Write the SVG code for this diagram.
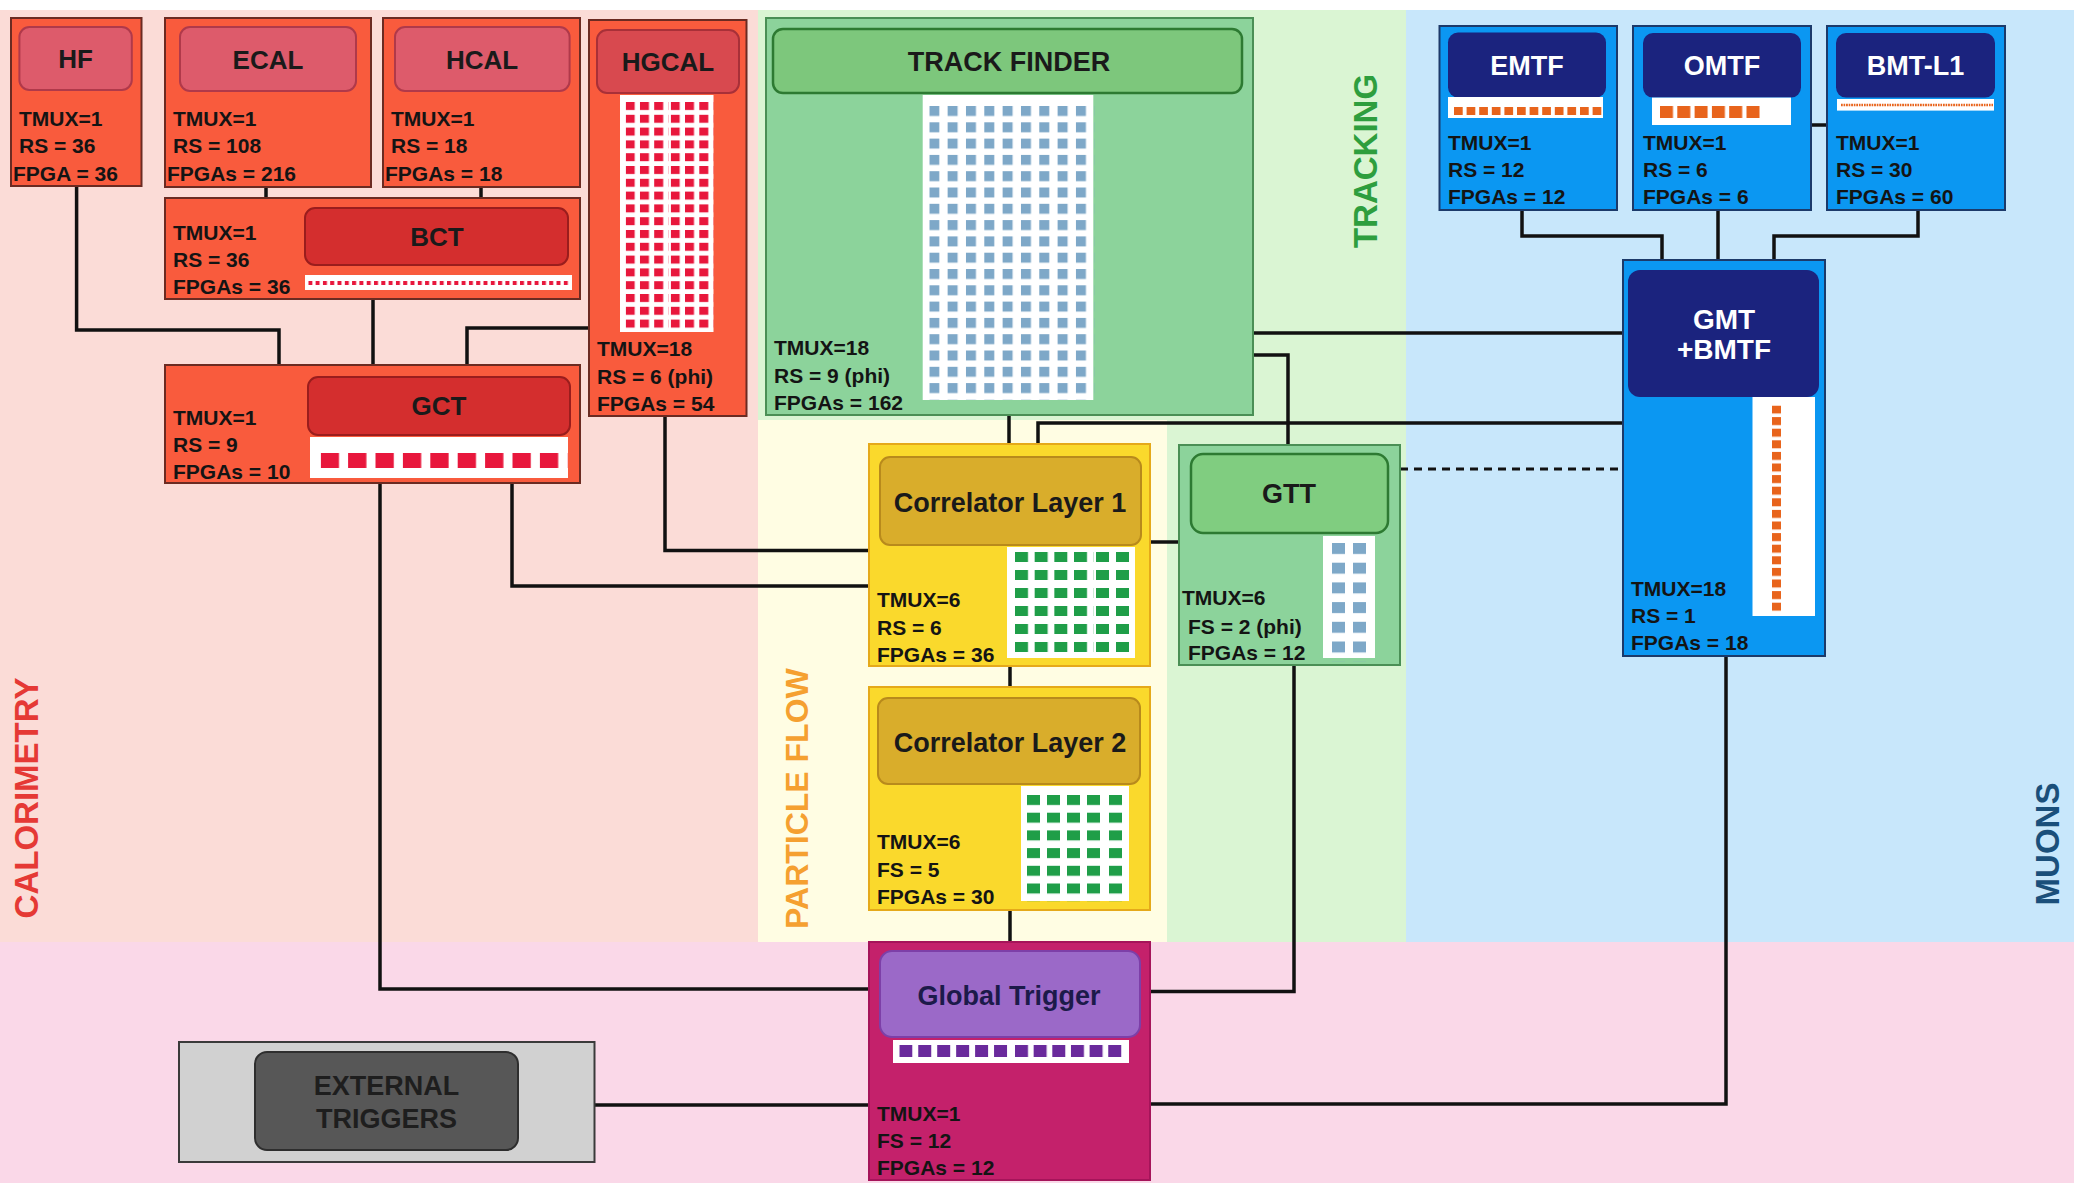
<svg xmlns="http://www.w3.org/2000/svg" width="2074" height="1183" viewBox="0 0 2074 1183">
<style>
.st{font-family:"Liberation Sans",Arial,Helvetica,sans-serif;font-weight:bold;font-size:21px;fill:#141414}
.hd{font-family:"Liberation Sans",Arial,Helvetica,sans-serif;font-weight:bold;font-size:26px;fill:#1a1a1a;text-anchor:middle}
.hw{font-family:"Liberation Sans",Arial,Helvetica,sans-serif;font-weight:bold;font-size:27px;fill:#ffffff;text-anchor:middle}
.lab{font-family:"Liberation Sans",Arial,Helvetica,sans-serif;font-weight:bold;font-size:33px;text-anchor:middle}
.calo{fill:#f95b3d;stroke:#6b2b22;stroke-width:2}
.caloh{fill:#dd5b6b;stroke:#b0394a;stroke-width:2}
.calod{fill:#d42e2e;stroke:#9a1d1d;stroke-width:2}
.trk{fill:#8cd39b;stroke:#4a8f55;stroke-width:2}
.trkh{fill:#7dc77c;stroke:#2d7a32;stroke-width:2.5}
.pf{fill:#fad92c;stroke:#e5a91a;stroke-width:2}
.pfh{fill:#d9ad2b;stroke:#b88a1c;stroke-width:2}
.mu{fill:#0b97f2;stroke:#1c3a6a;stroke-width:2}
.muh{fill:#1b237e}
.wh{fill:#ffffff}
.c{fill:none;stroke:#111;stroke-width:3.5}
</style>
<defs>
<pattern id="pTF" patternUnits="userSpaceOnUse" x="929.3" y="106" width="18.33" height="16.3"><rect width="10" height="10" fill="#7ea8c8"/></pattern>
<pattern id="pHG" patternUnits="userSpaceOnUse" x="625.7" y="102" width="14.25" height="12.8"><rect width="9" height="8" fill="#e8173c"/></pattern>
<pattern id="pHG2" patternUnits="userSpaceOnUse" x="670.7" y="102" width="14.3" height="12.8"><rect width="9" height="8" fill="#e8173c"/></pattern>
<pattern id="pCL1" patternUnits="userSpaceOnUse" x="1015" y="552" width="19.67" height="18"><rect width="13" height="10" fill="#1f9e48"/></pattern>
<pattern id="pCL1b" patternUnits="userSpaceOnUse" x="1096" y="552" width="20" height="18"><rect width="13" height="10" fill="#1f9e48"/></pattern>
<pattern id="pCL2" patternUnits="userSpaceOnUse" x="1027" y="795" width="20" height="17.7"><rect width="13" height="10" fill="#1f9e48"/></pattern>
<pattern id="pCL2b" patternUnits="userSpaceOnUse" x="1109" y="795" width="20" height="17.7"><rect width="13" height="10" fill="#1f9e48"/></pattern>
<pattern id="pGTT" patternUnits="userSpaceOnUse" x="1332" y="543" width="21" height="19.7"><rect width="13" height="11" fill="#7ea8c8"/></pattern>
<pattern id="pGT" patternUnits="userSpaceOnUse" x="899.3" y="1045" width="18.95" height="20"><rect width="13" height="12" fill="#6a2a9c"/></pattern>
<pattern id="pGT2" patternUnits="userSpaceOnUse" x="1015" y="1045" width="18.65" height="20"><rect width="13" height="12" fill="#6a2a9c"/></pattern>
<pattern id="pGCT" patternUnits="userSpaceOnUse" x="320.7" y="453" width="27.4" height="20"><rect width="18.3" height="15" fill="#e8173c"/></pattern>
<pattern id="pBCT" patternUnits="userSpaceOnUse" x="308.3" y="281" width="7.3" height="10"><rect width="4" height="4" fill="#e8173c"/></pattern>
<pattern id="pEM" patternUnits="userSpaceOnUse" x="1454" y="107" width="12.6" height="12"><rect width="8.7" height="8" fill="#e8641c"/></pattern>
<pattern id="pOM" patternUnits="userSpaceOnUse" x="1660" y="106" width="17.3" height="14"><rect width="13" height="12" fill="#e8641c"/></pattern>
<pattern id="pBM" patternUnits="userSpaceOnUse" x="1841" y="103.5" width="2.55" height="6"><rect width="1.7" height="3" fill="#e8641c"/></pattern>
<pattern id="pGMT" patternUnits="userSpaceOnUse" x="1772" y="405.5" width="12" height="11.6"><rect width="9" height="8" fill="#e8641c"/></pattern>
</defs>

<g id="backgrounds">
<rect x="0" y="0" width="2074" height="1183" fill="#ffffff"/>
<rect x="0" y="10" width="758" height="932" fill="#fbdcd7"/>
<rect x="758" y="10" width="648" height="932" fill="#daf5d3"/>
<rect x="758" y="420" width="409" height="522" fill="#fffde3"/>
<rect x="1406" y="10" width="668" height="932" fill="#c8e7fb"/>
<rect x="0" y="942" width="2074" height="241" fill="#fad8e8"/>
<text class="lab" fill="#e53935" transform="translate(26,798) rotate(-90)" y="11.5">CALORIMETRY</text>
<text class="lab" fill="#f5a030" transform="translate(796,798.6) rotate(-90)" y="11.5" style="font-size:32px">PARTICLE FLOW</text>
<text class="lab" fill="#2e9e3e" transform="translate(1365,161) rotate(-90)" y="11.5">TRACKING</text>
<text class="lab" fill="#1a4f7a" transform="translate(2047,844) rotate(-90)" y="11.5">MUONS</text>
</g>

<g id="connectors">
<path class="c" d="M76.6 186 V330 H279 V365"/>
<path class="c" d="M266 187 V198"/>
<path class="c" d="M481 187 V198"/>
<path class="c" d="M373 299 V365"/>
<path class="c" d="M589 328 H467 V365"/>
<path class="c" d="M380 483 V989 H869"/>
<path class="c" d="M512 483 V586 H869"/>
<path class="c" d="M665 416 V550.5 H869"/>
<path class="c" d="M1009 415 V444"/>
<path class="c" d="M1253 355 H1288 V445"/>
<path class="c" d="M1253 333 H1623"/>
<path class="c" d="M1038 444 V423 H1623"/>
<path class="c" d="M1150 542 H1179"/>
<path class="c" d="M1010 666 V687"/>
<path class="c" d="M1010 910 V942"/>
<path class="c" d="M1294 665 V991.6 H1150"/>
<path class="c" d="M1726 656 V1104 H1150"/>
<path class="c" d="M594.5 1105 H869"/>
<path class="c" d="M1400 469 H1623" stroke-dasharray="8 6" style="stroke-width:3"/>
<path class="c" d="M1522 210 V236 H1662 V260"/>
<path class="c" d="M1718 210 V260"/>
<path class="c" d="M1918 210 V236 H1774 V260"/>
<path class="c" d="M1811 125 H1827"/>
</g>

<g id="HF">
<rect class="calo" x="11" y="18" width="130.5" height="168"/>
<rect class="caloh" x="19.4" y="27" width="112.4" height="63" rx="10"/>
<text class="hd" x="75.6" y="67.5">HF</text>
<text class="st" x="19" y="125.5">TMUX=1</text>
<text class="st" x="19" y="153">RS = 36</text>
<text class="st" x="13" y="180.5">FPGA = 36</text>
</g>

<g id="ECAL">
<rect class="calo" x="165" y="18" width="206" height="169"/>
<rect class="caloh" x="180" y="27" width="176" height="64" rx="10"/>
<text class="hd" x="268" y="68.5">ECAL</text>
<text class="st" x="173" y="125.5">TMUX=1</text>
<text class="st" x="173" y="153">RS = 108</text>
<text class="st" x="167" y="180.5">FPGAs = 216</text>
</g>

<g id="HCAL">
<rect class="calo" x="383" y="18" width="197" height="169"/>
<rect class="caloh" x="395" y="27" width="174.6" height="64" rx="10"/>
<text class="hd" x="482" y="68.5">HCAL</text>
<text class="st" x="391" y="125.5">TMUX=1</text>
<text class="st" x="391" y="153">RS = 18</text>
<text class="st" x="385" y="180.5">FPGAs = 18</text>
</g>

<g id="HGCAL">
<rect class="calo" x="589" y="20" width="157.5" height="396"/>
<rect class="caloh" x="597" y="30" width="142" height="63" rx="10" style="fill:#d8494f;stroke:#a83038"/>
<text class="hd" x="668" y="71">HGCAL</text>
<rect class="wh" x="620" y="95" width="93.5" height="237"/>
<rect x="625.7" y="102" width="42.75" height="230" fill="url(#pHG)"/>
<rect x="670.7" y="102" width="42.9" height="230" fill="url(#pHG2)"/>
<text class="st" x="597" y="355.5">TMUX=18</text>
<text class="st" x="597" y="383.5">RS = 6 (phi)</text>
<text class="st" x="597" y="410.5">FPGAs = 54</text>
</g>

<g id="BCT">
<rect class="calo" x="165" y="198" width="415" height="101"/>
<rect class="calod" x="305" y="208" width="263" height="57" rx="10"/>
<text class="hd" x="437" y="246">BCT</text>
<rect class="wh" x="305" y="275" width="267" height="15"/>
<rect x="308.3" y="281" width="262" height="5" fill="url(#pBCT)"/>
<text class="st" x="173" y="239.5">TMUX=1</text>
<text class="st" x="173" y="266.5">RS = 36</text>
<text class="st" x="173" y="293.5">FPGAs = 36</text>
</g>

<g id="GCT">
<rect class="calo" x="165" y="365" width="415" height="118"/>
<rect class="calod" x="308" y="377" width="262" height="58" rx="10"/>
<text class="hd" x="439" y="415">GCT</text>
<rect class="wh" x="310" y="437" width="258" height="41"/>
<rect x="320.7" y="453" width="246.6" height="16" fill="url(#pGCT)"/>
<text class="st" x="173" y="424.5">TMUX=1</text>
<text class="st" x="173" y="451.5">RS = 9</text>
<text class="st" x="173" y="478.5">FPGAs = 10</text>
</g>

<g id="TRACK_FINDER">
<rect class="trk" x="766" y="18" width="487" height="397"/>
<rect class="trkh" x="773" y="29" width="469" height="64" rx="10"/>
<text class="hd" x="1009" y="71" style="font-size:27px">TRACK FINDER</text>
<rect class="wh" x="922.7" y="95" width="170.6" height="305"/>
<rect x="929.3" y="106" width="165" height="293.4" fill="url(#pTF)"/>
<text class="st" x="774" y="354.5">TMUX=18</text>
<text class="st" x="774" y="382.5">RS = 9 (phi)</text>
<text class="st" x="774" y="409.5">FPGAs = 162</text>
</g>

<g id="CL1">
<rect class="pf" x="869" y="444" width="281" height="222"/>
<rect class="pfh" x="880" y="457" width="261" height="88" rx="10"/>
<text class="hd" x="1010" y="512" style="font-size:27px">Correlator Layer 1</text>
<rect class="wh" x="1007" y="547" width="128" height="111"/>
<rect x="1015" y="552" width="78.7" height="108" fill="url(#pCL1)"/>
<rect x="1096" y="552" width="40" height="108" fill="url(#pCL1b)"/>
<text class="st" x="877" y="606.5">TMUX=6</text>
<text class="st" x="877" y="634.5">RS = 6</text>
<text class="st" x="877" y="661.5">FPGAs = 36</text>
</g>

<g id="CL2">
<rect class="pf" x="869" y="687" width="281" height="223"/>
<rect class="pfh" x="878" y="698" width="262" height="86" rx="10"/>
<text class="hd" x="1010" y="752" style="font-size:27px">Correlator Layer 2</text>
<rect class="wh" x="1021" y="786" width="108" height="115"/>
<rect x="1027" y="795" width="80" height="106.2" fill="url(#pCL2)"/>
<rect x="1109" y="795" width="20" height="106.2" fill="url(#pCL2b)"/>
<text class="st" x="877" y="849">TMUX=6</text>
<text class="st" x="877" y="876.5">FS = 5</text>
<text class="st" x="877" y="903.5">FPGAs = 30</text>
</g>

<g id="GTT">
<rect class="trk" x="1179" y="445" width="221" height="220"/>
<rect class="trkh" x="1191" y="454" width="197" height="79" rx="12" style="fill:#80cd80"/>
<text class="hd" x="1289" y="503" style="font-size:27px">GTT</text>
<rect class="wh" x="1323" y="536" width="52" height="122"/>
<rect x="1332" y="543" width="42" height="118.2" fill="url(#pGTT)"/>
<text class="st" x="1182" y="604.5">TMUX=6</text>
<text class="st" x="1188" y="633.5">FS = 2 (phi)</text>
<text class="st" x="1188" y="659.5">FPGAs = 12</text>
</g>

<g id="EMTF">
<rect class="mu" x="1439.5" y="26" width="177.5" height="184"/>
<rect class="muh" x="1448" y="32.5" width="158" height="65" rx="10"/>
<text class="hw" x="1527" y="74.5">EMTF</text>
<rect class="wh" x="1448" y="97" width="155" height="21"/>
<rect x="1454" y="107" width="151" height="8" fill="url(#pEM)"/>
<text class="st" x="1448" y="149.5">TMUX=1</text>
<text class="st" x="1448" y="176.5">RS = 12</text>
<text class="st" x="1448" y="203.5">FPGAs = 12</text>
</g>

<g id="OMTF">
<rect class="mu" x="1633" y="26" width="178" height="184"/>
<rect class="muh" x="1643" y="33" width="158" height="64.6" rx="10"/>
<text class="hw" x="1722" y="74.5">OMTF</text>
<rect class="wh" x="1652" y="97.6" width="139" height="27.4"/>
<rect x="1660" y="106" width="100" height="12" fill="url(#pOM)"/>
<text class="st" x="1643" y="149.5">TMUX=1</text>
<text class="st" x="1643" y="176.5">RS = 6</text>
<text class="st" x="1643" y="203.5">FPGAs = 6</text>
</g>

<g id="BMT-L1">
<rect class="mu" x="1827" y="26" width="178" height="184"/>
<rect class="muh" x="1836" y="33" width="159" height="64.6" rx="10"/>
<text class="hw" x="1915.5" y="74.5">BMT-L1</text>
<rect class="wh" x="1837" y="99" width="157" height="11.6"/>
<rect x="1841" y="103.5" width="152" height="3" fill="url(#pBM)"/>
<text class="st" x="1836" y="149.5">TMUX=1</text>
<text class="st" x="1836" y="176.5">RS = 30</text>
<text class="st" x="1836" y="203.5">FPGAs = 60</text>
</g>

<g id="GMT">
<rect class="mu" x="1623" y="260" width="202" height="396"/>
<rect class="muh" x="1628" y="270" width="191" height="127" rx="12"/>
<text class="hw" x="1724" y="328.5" style="font-size:28px">GMT</text>
<text class="hw" x="1724" y="359" style="font-size:28px">+BMTF</text>
<rect class="wh" x="1752.5" y="397" width="62.5" height="219"/>
<rect x="1772" y="405.5" width="9" height="206" fill="url(#pGMT)"/>
<text class="st" x="1631" y="595.5">TMUX=18</text>
<text class="st" x="1631" y="622.5">RS = 1</text>
<text class="st" x="1631" y="649.5">FPGAs = 18</text>
</g>

<g id="GLOBAL_TRIGGER">
<rect x="869" y="942" width="281" height="238" fill="#c4216b" stroke="#a5145a" stroke-width="2"/>
<rect x="880" y="951" width="260" height="86" rx="12" fill="#9b69c8" stroke="#7d3fa8" stroke-width="2"/>
<text class="hd" x="1009" y="1004.5" style="font-size:27px;fill:#1c1a4a">Global Trigger</text>
<rect class="wh" x="893" y="1040" width="236" height="23"/>
<rect x="899.3" y="1045" width="113" height="12" fill="url(#pGT)"/>
<rect x="1015" y="1045" width="107" height="12" fill="url(#pGT2)"/>
<text class="st" x="877" y="1120.5">TMUX=1</text>
<text class="st" x="877" y="1147.5">FS = 12</text>
<text class="st" x="877" y="1174.5">FPGAs = 12</text>
</g>

<g id="EXTERNAL_TRIGGERS">
<rect x="179" y="1042" width="415.5" height="120" fill="#d1d1d1" stroke="#3a3a3a" stroke-width="2"/>
<rect x="255" y="1052" width="263" height="98" rx="12" fill="#575757" stroke="#2e2e2e" stroke-width="2"/>
<text class="hd" x="386.5" y="1094.5" style="font-size:27px;fill:#1e1e1e">EXTERNAL</text>
<text class="hd" x="386.5" y="1127.5" style="font-size:27px;fill:#1e1e1e">TRIGGERS</text>
</g>
</svg>
